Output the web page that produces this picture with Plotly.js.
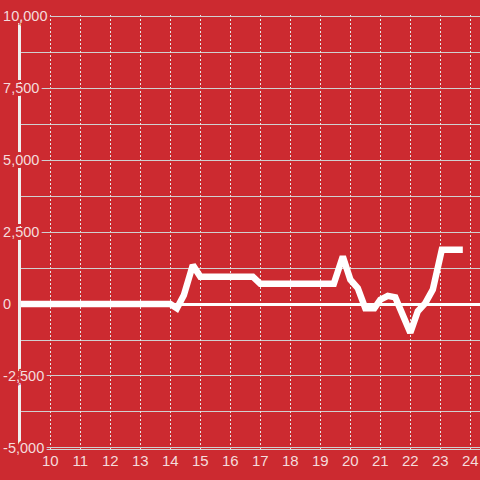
<!DOCTYPE html>
<html>
<head>
<meta charset="utf-8">
<script src="https://cdn.plot.ly/plotly-3.0.1.min.js"></script>
<style>html,body{margin:0;padding:0;background:#cc2a30;}#chart{width:480px;height:480px;}</style>
</head>
<body>
<div id="chart"></div>
<script>
const hours = [9.0, 14.0, 14.22, 14.45, 14.75, 15.0, 16.75, 17.0, 19.45, 19.75, 20.0, 20.25, 20.5, 20.8, 21.0, 21.25, 21.5, 22.0, 22.25, 22.5, 22.75, 23.05, 23.75];
const values = [0, 0, -150, 300, 1350, 950, 950, 700, 700, 1650, 850, 550, -150, -150, 150, 280, 230, -1000, -250, 30, 500, 1880, 1880];
const xTickVals = [10, 11, 12, 13, 14, 15, 16, 17, 18, 19, 20, 21, 22, 23, 24];
const yTickVals = [-5000, -2500, 0, 2500, 5000, 7500, 10000];
const yTickText = ["-5,000", "-2,500", "0", "2,500", "5,000", "7,500", "10,000"];

const BG = "#cc2a30";
const LABEL = "#f4dcdc";
const halo = [
  "2px 0 0 " + BG, "-2px 0 0 " + BG, "0 2px 0 " + BG, "0 -2px 0 " + BG,
  "2px 2px 0 " + BG, "-2px -2px 0 " + BG, "2px -2px 0 " + BG, "-2px 2px 0 " + BG,
  "3px 0 0 " + BG, "-3px 0 0 " + BG, "0 3px 0 " + BG, "0 -3px 0 " + BG
].join(", ");

const trace = {
  x: hours, y: values, type: "scatter", mode: "lines",
  line: {color: "#ffffff", width: 6.5},
  hoverinfo: "skip"
};

const layout = {
  width: 480, height: 480,
  paper_bgcolor: BG, plot_bgcolor: BG,
  margin: {l: 21, r: 0, t: 15, b: 31},
  showlegend: false,
  font: {family: "Liberation Sans, Arial, sans-serif", color: LABEL},
  xaxis: {
    range: [9.023, 24.323],
    tickmode: "array", tickvals: xTickVals,
    showgrid: true, gridcolor: "#e6e6e6", griddash: "2px,2px", gridwidth: 1,
    zeroline: false,
    showline: true, linecolor: "#d4d4d4", linewidth: 1,
    ticks: "", tickfont: {size: 15, color: LABEL},
    ticklabelstandoff: -2
  },
  yaxis: {
    range: [-5035, 10035],
    tickmode: "array", tickvals: yTickVals, ticktext: yTickText,
    showgrid: true, gridcolor: "#d0d0d0", gridwidth: 1,
    minor: {dtick: 1250, tick0: 0, showgrid: true, gridcolor: "#d0d0d0", gridwidth: 1, ticks: ""},
    zeroline: true, zerolinecolor: "#ffffff", zerolinewidth: 3,
    showline: true, linecolor: "#f0f0f0", linewidth: 3,
    ticks: "",
    ticklabelposition: "inside",
    ticklabeloverflow: "allow",
    ticklabelstandoff: -18,
    tickfont: {size: 14.5, color: LABEL, shadow: halo}
  }
};

Plotly.newPlot("chart", [trace], layout, {displayModeBar: false, staticPlot: true});
</script>
</body>
</html>
